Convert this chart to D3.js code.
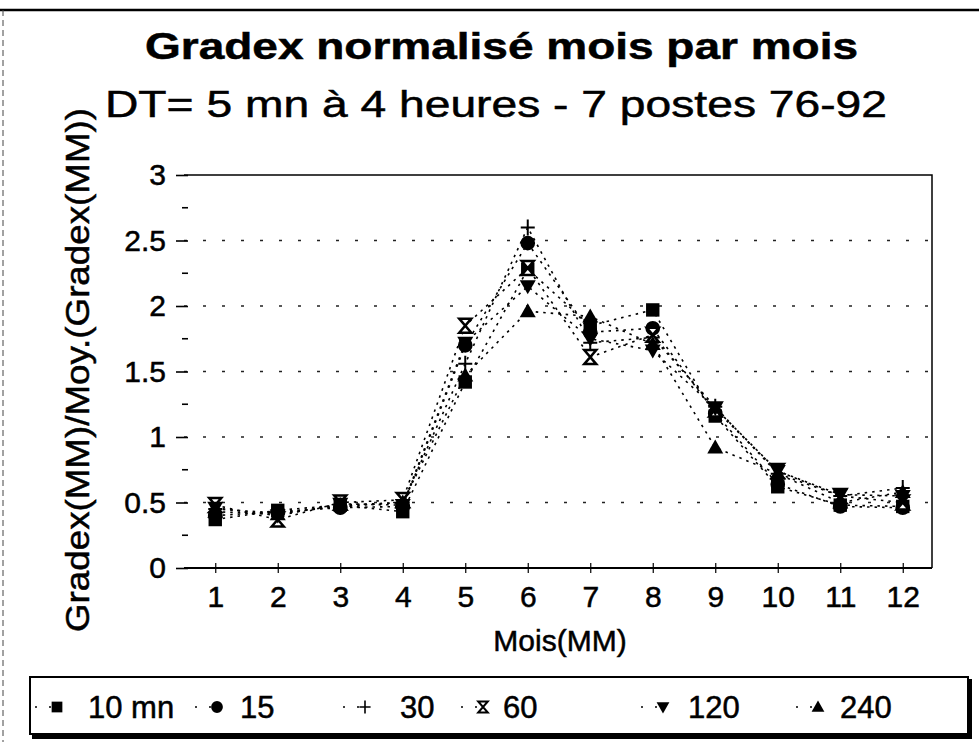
<!DOCTYPE html>
<html>
<head>
<meta charset="utf-8">
<script src="https://cdn.jsdelivr.net/npm/d3@7"></script>
<style>
  body { margin: 0; background: #fff; }
  text { font-family: "Liberation Sans", Arial, Helvetica, sans-serif; fill: #000; stroke: #000; stroke-width: 0.5; }
</style>
</head>
<body>
<div id="chart"></div>
<script>
// Data
var months = ["1", "2", "3", "4", "5", "6", "7", "8", "9", "10", "11", "12"];
var seriesNames = ["10 mn", "15", "30", "60", "120", "240"];
var s10 = [0.37, 0.44, 0.48, 0.43, 1.42, 2.28, 1.85, 1.97, 1.16, 0.62, 0.48, 0.47];
var s15 = [0.40, 0.43, 0.46, 0.47, 1.70, 2.48, 1.80, 1.83, 1.18, 0.64, 0.47, 0.46];
var s30 = [0.45, 0.42, 0.47, 0.50, 1.56, 2.60, 1.72, 1.76, 1.23, 0.72, 0.55, 0.61];
var s60 = [0.48, 0.37, 0.50, 0.52, 1.85, 2.29, 1.61, 1.78, 1.21, 0.74, 0.55, 0.50];
var s120 = [0.46, 0.40, 0.49, 0.48, 1.72, 2.15, 1.75, 1.66, 1.22, 0.74, 0.56, 0.55];
var s240 = [0.43, 0.41, 0.48, 0.50, 1.47, 1.96, 1.92, 1.71, 0.92, 0.72, 0.50, 0.58];
var yTicks = [0, 0.5, 1, 1.5, 2, 2.5, 3];

var allSeries = [s10, s15, s30, s60, s120, s240];

var svgWidth = 979;
var svgHeight = 742;
var plot = { left: 184, right: 932, top: 175, bottom: 568 };

var svg = d3.select("#chart")
    .append("svg")
    .attr("width", svgWidth)
    .attr("height", svgHeight);

// outer frame (top rule and dashed left edge)
svg.append("line")
    .attr("x1", 0).attr("x2", svgWidth)
    .attr("y1", 10).attr("y2", 10)
    .attr("stroke", "#000").attr("stroke-width", 2.5);
svg.append("line")
    .attr("x1", 3).attr("x2", 3)
    .attr("y1", 10).attr("y2", svgHeight)
    .attr("stroke", "#444").attr("stroke-width", 1)
    .attr("stroke-dasharray", "6,4");

// scales
var x = d3.scalePoint()
    .domain(months)
    .range([plot.left, plot.left + 750])
    .padding(0.5);
var y = d3.scaleLinear()
    .domain([0, 3])
    .range([plot.bottom, plot.top]);

// gridlines
svg.append("g")
    .selectAll("line")
    .data(yTicks.filter(d => d > 0 && d < 3))
    .enter()
    .append("line")
    .attr("x1", plot.left).attr("x2", plot.right)
    .attr("y1", d => y(d)).attr("y2", d => y(d))
    .attr("stroke", "#222")
    .attr("stroke-width", 1.6)
    .attr("stroke-dasharray", "3,16");

// plot border (top and right)
svg.append("path")
    .attr("d", `M${plot.left},${plot.top}H${plot.right}V${plot.bottom}`)
    .attr("fill", "none")
    .attr("stroke", "#000")
    .attr("stroke-width", 1.5);

// y axis: ticks and labels, no domain line
var leftAxis = d3.axisLeft(y)
    .tickValues(yTicks)
    .tickSize(12)
    .tickPadding(10)
    .tickFormat(d3.format("~g"));
var yAxis = svg.append("g")
    .attr("transform", `translate(${plot.left + 4},0)`)
    .call(leftAxis);
yAxis.select(".domain").remove();
yAxis.selectAll("line").attr("stroke-width", 1.6);
yAxis.selectAll("text")
    .attr("font-size", 30)
    .style("font-family", "'Liberation Sans', Arial, sans-serif");

// minor ticks
var minor = d3.range(0.25, 3, 0.5);
svg.append("g")
    .selectAll("line")
    .data(minor)
    .enter()
    .append("line")
    .attr("x1", plot.left - 2).attr("x2", plot.left + 4)
    .attr("y1", d => y(d)).attr("y2", d => y(d))
    .attr("stroke", "#000").attr("stroke-width", 1.6);

// x axis
var bottomAxis = d3.axisBottom(x)
    .tickSizeInner(5)
    .tickSizeOuter(0)
    .tickPadding(13);
var xAxis = svg.append("g")
    .attr("transform", `translate(0,${plot.bottom})`)
    .call(bottomAxis);
xAxis.select(".domain")
    .attr("d", `M${plot.left},0H${plot.right}`)
    .attr("stroke-width", 2.2);
xAxis.selectAll(".tick line")
    .attr("y1", -5)
    .attr("stroke-width", 1.2);
xAxis.selectAll("text")
    .attr("font-size", 30)
    .style("font-family", "'Liberation Sans', Arial, sans-serif");

// marker shapes
function markerPath(i) {
    if (i === 0) return d3.symbol().type(d3.symbolSquare).size(180)();
    if (i === 1) return d3.symbol().type(d3.symbolCircle).size(170)();
    if (i === 2) return "M-7,0H7M0,-8V8";
    if (i === 3) return "M-6,-7H6L-6,7H6Z";
    if (i === 4) return "M-8,-6H8L0,8Z";
    return "M-8,6H8L0,-8Z";
}
function styleMarker(sel, i) {
    if (i === 2) {
        sel.attr("fill", "none").attr("stroke", "#000").attr("stroke-width", 2);
    } else if (i === 3) {
        sel.attr("fill", "#fff").attr("stroke", "#000").attr("stroke-width", 2.5);
    } else {
        sel.attr("fill", "#000").attr("stroke", "none");
    }
}

var line = d3.line()
    .x((d, j) => x(months[j]))
    .y(d => y(d));

// dotted series lines
svg.append("g")
    .selectAll("path")
    .data(allSeries)
    .enter()
    .append("path")
    .attr("d", d => line(d))
    .attr("fill", "none")
    .attr("stroke", "#000")
    .attr("stroke-width", 1.6)
    .attr("stroke-dasharray", "2.5,5");

// markers
allSeries.forEach((values, i) => {
    var g = svg.append("g");
    var m = g.selectAll("path")
        .data(values)
        .enter()
        .append("path")
        .attr("transform", (d, j) => `translate(${x(months[j])},${y(d)})`)
        .attr("d", markerPath(i));
    styleMarker(m, i);
});

// titles
svg.append("text")
    .attr("x", 145).attr("y", 59)
    .attr("font-size", 37)
    .attr("font-weight", "bold")
    .attr("textLength", 713)
    .attr("lengthAdjust", "spacingAndGlyphs")
    .text("Gradex normalisé mois par mois");
svg.append("text")
    .attr("x", 105).attr("y", 117)
    .attr("font-size", 36)
    .attr("textLength", 782)
    .attr("lengthAdjust", "spacingAndGlyphs")
    .text("DT= 5 mn à 4 heures -  7 postes 76-92");

// axis titles
svg.append("text")
    .attr("transform", "translate(89,370) rotate(-90)")
    .attr("text-anchor", "middle")
    .attr("font-size", 33)
    .attr("textLength", 524)
    .attr("lengthAdjust", "spacingAndGlyphs")
    .text("Gradex(MM)/Moy.(Gradex(MM))");
svg.append("text")
    .attr("x", 560).attr("y", 651)
    .attr("text-anchor", "middle")
    .attr("font-size", 30)
    .text("Mois(MM)");

// legend
var legend = svg.append("g");
legend.append("path")
    .attr("d", "M32,737H970V679")
    .attr("fill", "none")
    .attr("stroke", "#000")
    .attr("stroke-width", 4);
legend.append("rect")
    .attr("x", 30).attr("y", 677)
    .attr("width", 938).attr("height", 57)
    .attr("fill", "none")
    .attr("stroke", "#000")
    .attr("stroke-width", 2);

var legendMarkX = [57, 217, 365, 483, 663, 818];
var legendTextX = [88, 240, 400, 503, 688, 840];
seriesNames.forEach((name, i) => {
    var item = legend.append("g");
    item.append("line")
        .attr("x1", legendMarkX[i] - 22).attr("x2", legendMarkX[i] - 6)
        .attr("y1", 707).attr("y2", 707)
        .attr("stroke", "#000").attr("stroke-width", 1.5)
        .attr("stroke-dasharray", "2,12");
    var m = item.append("path")
        .attr("transform", `translate(${legendMarkX[i]},707) scale(0.8)`)
        .attr("d", markerPath(i));
    styleMarker(m, i);
    item.append("text")
        .attr("x", legendTextX[i]).attr("y", 718)
        .attr("font-size", 31)
        .text(name);
});
</script>
</body>
</html>
